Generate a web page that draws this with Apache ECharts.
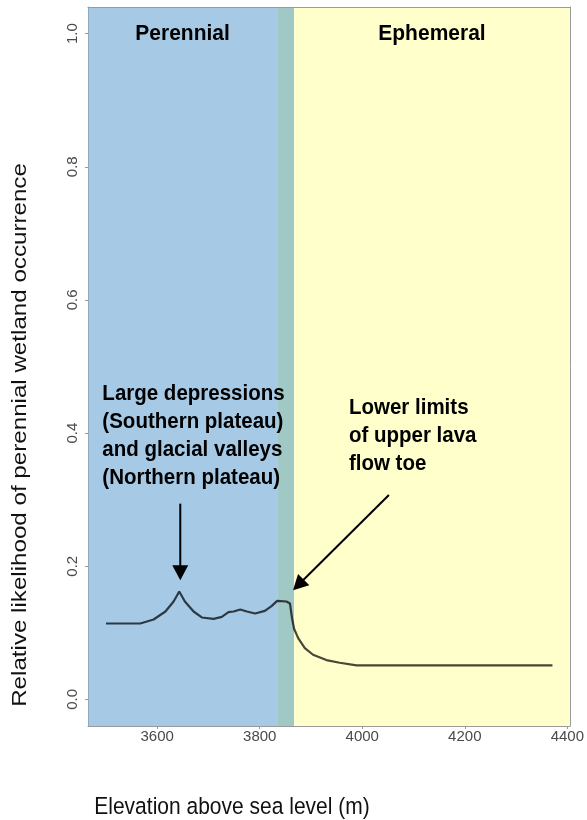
<!DOCTYPE html>
<html>
<head>
<meta charset="utf-8">
<script src="https://cdn.jsdelivr.net/npm/echarts@6/dist/echarts.min.js"></script>
<style>
  html, body { margin: 0; padding: 0; background: #ffffff; }
  #chart { width: 587px; height: 820px; }
</style>
</head>
<body>
<div id="chart"></div>
<script>
// Elevation (m) and modelled likelihood of perennial wetland occurrence
const elevation = [3500, 3567, 3593, 3616, 3632, 3643, 3654, 3671, 3687, 3710, 3726, 3739, 3749, 3762, 3775, 3791, 3810, 3823, 3834, 3852, 3859, 3863, 3867, 3875, 3888, 3904, 3930, 3956, 3989, 4371];
const likelihood = [0.114, 0.114, 0.120, 0.132, 0.147, 0.162, 0.147, 0.132, 0.123, 0.121, 0.124, 0.131, 0.132, 0.135, 0.132, 0.129, 0.133, 0.140, 0.148, 0.147, 0.144, 0.122, 0.106, 0.092, 0.077, 0.067, 0.059, 0.055, 0.051, 0.051];

// Axis ranges and tick labels
const xRange = [3465, 4405];
const yRange = [-0.04, 1.04];
const xTicks = [3600, 3800, 4000, 4200, 4400];
const yTicks = [0, 0.2, 0.4, 0.6, 0.8, 1.0];

// Hydroperiod zones along the elevation axis
const zoneNames = ['Perennial', '', 'Ephemeral'];
const zoneBounds = [[3465, 3834], [3834, 3867], [3867, 4405]];
const zoneColors = ['#a6cae6', '#a0c8c4', '#ffffcc'];

// Callout texts and arrows (data coordinates)
const calloutLeft = ['Large depressions', '(Southern plateau)', 'and glacial valleys', '(Northern plateau)'];
const calloutRight = ['Lower limits', 'of upper lava', 'flow toe'];
const calloutLeftAt = [3493, 0.395];
const calloutRightAt = [3974, 0.396];
const arrows = [
  { from: [3645, 0.294], to: [3645, 0.179] },
  { from: [4052, 0.307], to: [3865, 0.164] }
];

const chart = echarts.init(document.getElementById('chart'), null, { renderer: 'canvas' });

const FONT = '"Liberation Sans", Arial, Helvetica, sans-serif';
const seriesData = elevation.map((e, i) => [e, likelihood[i]]);

// Frame-only axes for the top and right edges of the plot box
const bareAxis = {
  z: 10,
  axisLine: { show: true, onZero: false, lineStyle: { color: '#9a9a9a', width: 1 } },
  axisTick: { show: false },
  axisLabel: { show: false },
  splitLine: { show: false }
};

chart.setOption({
  animation: false,
  backgroundColor: '#ffffff',
  grid: { left: 88, right: 16, top: 7, bottom: 94 },
  xAxis: [
    {
      type: 'value', min: xRange[0], max: xRange[1], z: 10,
      axisLine: { show: true, onZero: false, lineStyle: { color: '#9a9a9a', width: 1 } },
      axisTick: { show: true, length: 3, customValues: xTicks, lineStyle: { color: '#999' } },
      axisLabel: {
        customValues: xTicks, color: '#4a4a4a', fontSize: 15, fontFamily: FONT, margin: 3,
        formatter: v => String(v)
      },
      splitLine: { show: false }
    },
    Object.assign({ type: 'value', position: 'top', min: xRange[0], max: xRange[1] }, bareAxis)
  ],
  yAxis: [
    {
      type: 'value', min: yRange[0], max: yRange[1], z: 10,
      axisLine: { show: true, onZero: false, lineStyle: { color: '#8fa9bf', width: 1 } },
      axisTick: { show: true, length: 3, customValues: yTicks, lineStyle: { color: '#999' } },
      axisLabel: {
        customValues: yTicks, rotate: 90, color: '#4a4a4a', fontSize: 15, fontFamily: FONT, margin: 8,
        formatter: v => v.toFixed(1)
      },
      splitLine: { show: false }
    },
    Object.assign({ type: 'value', position: 'right', min: yRange[0], max: yRange[1] }, bareAxis)
  ],
  series: [
    {
      type: 'line',
      z: 1,
      data: [],
      silent: true,
      markArea: {
        silent: true,
        data: zoneBounds.map((b, i) => [
          { name: zoneNames[i], xAxis: b[0], itemStyle: { color: zoneColors[i], opacity: 1 } },
          { xAxis: b[1] }
        ]),
        label: { show: false }
      }
    },
    {
      type: 'line',
      z: 5,
      data: seriesData,
      showSymbol: false,
      smooth: false,
      lineStyle: { color: '#000000', width: 2.2, opacity: 0.72 }
    }
  ]
});

function px(pt) { return chart.convertToPixel({ gridIndex: 0 }, pt); }

const graphics = [];
const STRETCH = 1.05;

// Zone titles centred in each shaded band
zoneBounds.forEach((b, i) => {
  if (!zoneNames[i]) return;
  const p = px([(b[0] + b[1]) / 2, 1.0]);
  graphics.push({
    type: 'text', x: p[0], y: p[1], scaleY: STRETCH, z: 10,
    style: { text: zoneNames[i], font: 'bold 21px ' + FONT, fill: '#000', align: 'center', verticalAlign: 'middle' }
  });
});

// Callout blocks
[[calloutLeft, calloutLeftAt], [calloutRight, calloutRightAt]].forEach(([lines, at]) => {
  const p = px(at);
  graphics.push({
    type: 'text', x: p[0], y: p[1], scaleY: STRETCH, z: 10,
    style: { text: lines.join('\n'), font: 'bold 20.5px ' + FONT, lineHeight: 26.6, fill: '#000', align: 'left', verticalAlign: 'middle' }
  });
});

// Arrows with solid triangular heads
const HEAD_LEN = 15, HEAD_W = 16;
arrows.forEach(a => {
  const s = px(a.from), t = px(a.to);
  const dx = t[0] - s[0], dy = t[1] - s[1];
  const len = Math.hypot(dx, dy);
  const ux = dx / len, uy = dy / len;
  const bx = t[0] - ux * HEAD_LEN, by = t[1] - uy * HEAD_LEN;
  const nx = -uy * HEAD_W / 2, ny = ux * HEAD_W / 2;
  graphics.push({
    type: 'line', z: 10,
    shape: { x1: s[0], y1: s[1], x2: bx + ux * 2, y2: by + uy * 2 },
    style: { stroke: '#000', lineWidth: 2 }
  });
  graphics.push({
    type: 'polygon', z: 10,
    shape: { points: [[t[0], t[1]], [bx + nx, by + ny], [bx - nx, by - ny]] },
    style: { fill: '#000' }
  });
});

// Axis titles
graphics.push({
  type: 'text', x: 232, y: 808, scaleY: 1.1, z: 10,
  style: { text: 'Elevation above sea level (m)', font: '21px ' + FONT, fill: '#111', align: 'center', verticalAlign: 'middle' }
});
graphics.push({
  type: 'text', x: 20, y: 435, rotation: Math.PI / 2, scaleX: 1.15, z: 10,
  style: { text: 'Relative likelihood of perennial wetland occurrence', font: '21px ' + FONT, fill: '#111', align: 'center', verticalAlign: 'middle' }
});

chart.setOption({ graphic: graphics });
</script>
</body>
</html>
